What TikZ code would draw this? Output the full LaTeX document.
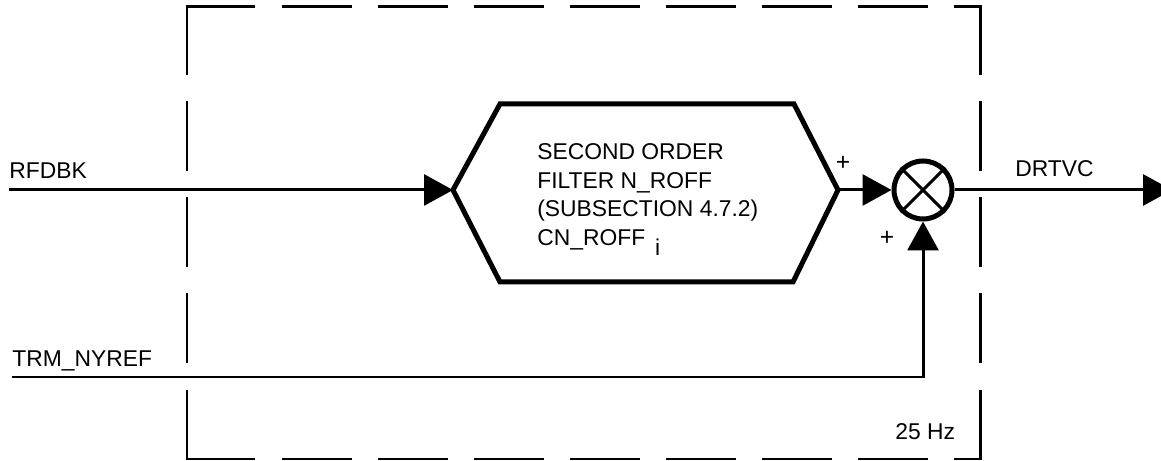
\documentclass[tikz,border=0pt]{standalone}
\usepackage{fontspec}
\setmainfont{Liberation Sans}
\usetikzlibrary{arrows.meta}

\tikzset{
  wire/.style={line width=1.7pt},
  sig/.style={wire, -{Triangle[length=0.58cm, width=0.62cm]}},
  lbl/.style={anchor=base west, inner sep=0pt, font=\fontsize{13}{16.2}\selectfont},
  sgn/.style={inner sep=0pt, font=\fontsize{14}{16}\selectfont},
  frame/.style={line width=1.7pt, line cap=rect, dash pattern=on 1.34cm off 0.58cm},
  block/.style={line width=2.85pt, line join=miter},
}

\begin{document}
\begin{tikzpicture}
  \useasboundingbox (0,0) rectangle (23.22,9.22);
  % 25 Hz frame
  \draw[frame] (3.74,9.08) -- (19.6,9.08);
  \draw[frame] (3.74,0.04) -- (19.6,0.04);
  \draw[frame] (3.74,9.08) -- (3.74,0.04);
  \draw[frame] (19.6,9.08) -- (19.6,0.04);

  % filter block
  \draw[block] (9.06,5.42) coordinate (hexW) -- (10.0,7.14) -- (15.88,7.14)
        -- (16.76,5.42) coordinate (hexE) -- (15.86,3.58) -- (10.0,3.58) -- cycle;
  \node[lbl, anchor=north west, align=left] (filterTxt) at (10.74,6.35)
        {SECOND ORDER\\FILTER N\_ROFF\\(SUBSECTION 4.7.2)\\CN\_ROFF\hspace{0.2cm}\raisebox{-0.2cm}{i}};

  % summing junction
  \node[draw, circle, block, minimum size=1.16cm, inner sep=0pt] (sum) at (18.46,5.42) {};
  \draw[wire] (sum.north west) -- (sum.south east);
  \draw[wire] (sum.north east) -- (sum.south west);

  \coordinate (rfdbk) at (0.18,5.42);
  \coordinate (trm)   at (0.24,1.68);
  \coordinate (out)   at (23.44,5.42);

  \draw[sig] (rfdbk) -- (hexW);
  \draw[sig] (hexE) -- (sum.west);
  \draw[sig] (sum.east) -- (out);
  \draw[sig] (trm) -| (sum.south);

  \node[lbl] (rfdbkLbl) at (0.18,5.64) {RFDBK};
  \node[lbl] (trmLbl)   at (0.24,1.88) {TRM\_NYREF};
  \node[lbl] (outLbl)   at (20.3,5.68) {DRTVC};
  \node[lbl] (rateLbl)  at (17.9,0.42) {25 Hz};
  \node[sgn] (plusA) at (16.86,5.95) {+};
  \node[sgn] (plusB) at (17.74,4.46) {+};
\end{tikzpicture}
\end{document}
